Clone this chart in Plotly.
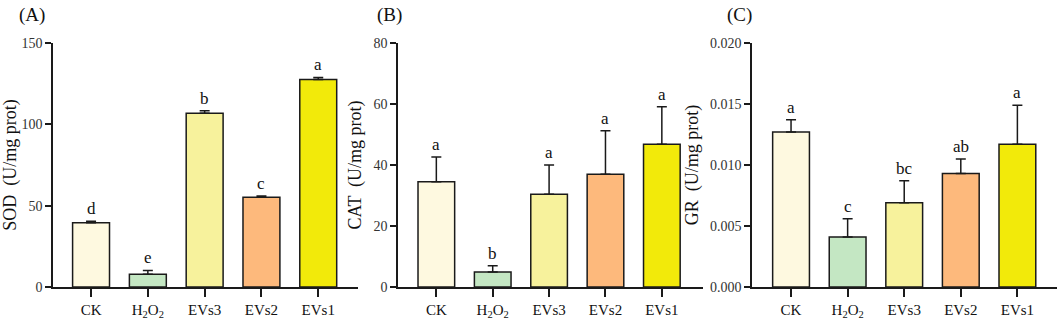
import plotly.graph_objects as go

categories = ["CK", "H<sub>2</sub>O<sub>2</sub>", "EVs3", "EVs2", "EVs1"]
colors = ["#FEF9E0", "#C4E7C3", "#F7F29C", "#FDB97C", "#F2EA0A"]

sod_mean = [39.5, 7.8, 106.8, 55.2, 127.6]
sod_err = [0.9, 2.4, 1.6, 0.8, 1.2]
sod_sig = ["d", "e", "b", "c", "a"]

cat_mean = [34.5, 4.9, 30.4, 37.0, 46.8]
cat_err = [8.1, 2.1, 9.6, 14.2, 12.3]
cat_sig = ["a", "b", "a", "a", "a"]

gr_mean = [0.0127, 0.0041, 0.0069, 0.0093, 0.0117]
gr_err = [0.0010, 0.0015, 0.0018, 0.0012, 0.0032]
gr_sig = ["a", "c", "bc", "ab", "a"]

panels = [
    ("(A)", "SOD  (U/mg prot)", sod_mean, sod_err, sod_sig, [0, 150], 50, None),
    ("(B)", "CAT  (U/mg prot)", cat_mean, cat_err, cat_sig, [0, 80], 20, None),
    ("(C)", "GR  (U/mg prot)", gr_mean, gr_err, gr_sig, [0, 0.02], 0.005, ".3f"),
]

W, H = 1059, 324
domains_px = [(53, 358), (398, 703), (752, 1057)]
xranges = [[-0.67, 4.7], [-0.68, 4.73], [-0.69, 4.7]]
label_x_px = [17, 375, 725]
title_standoff = [7, 7, 7]

FONT = "Liberation Serif, Times New Roman, serif"
fig = go.Figure()
x_idx = list(range(len(categories)))

for i, (plab, ytitle, mean, err, sig, yr, dt, fmt) in enumerate(panels):
    xa = "x" if i == 0 else f"x{i+1}"
    ya = "y" if i == 0 else f"y{i+1}"
    fig.add_trace(go.Bar(
        x=x_idx, y=mean, xaxis=xa, yaxis=ya, width=0.65,
        marker=dict(color=colors, line=dict(color="#1a1a1a", width=1.5)),
        error_y=dict(type="data", symmetric=False, array=err,
                     arrayminus=[0] * len(err), color="#1a1a1a",
                     thickness=1.5, width=5),
        showlegend=False, hoverinfo="skip",
    ))
    for j in x_idx:
        fig.add_annotation(x=j, y=mean[j] + err[j], xref=xa, yref=ya,
                           text=sig[j], showarrow=False, yanchor="bottom",
                           yshift=1, font=dict(family=FONT, size=17, color="#111"))
    d0, d1 = domains_px[i]
    axkey = "xaxis" if i == 0 else f"xaxis{i+1}"
    aykey = "yaxis" if i == 0 else f"yaxis{i+1}"
    fig.update_layout(**{
        axkey: dict(domain=[d0 / W, d1 / W], anchor=ya, range=xranges[i],
                    tickmode="array", tickvals=x_idx, ticktext=categories,
                    showline=True, linecolor="#1a1a1a", linewidth=1.5,
                    ticks="outside", ticklen=8, tickwidth=1.5, tickcolor="#1a1a1a",
                    showgrid=False, zeroline=False, fixedrange=True,
                    automargin=False,
                    tickfont=dict(family=FONT, size=15, color="#111")),
        aykey: dict(domain=[0, 1], anchor=xa, range=yr, dtick=dt, tick0=0,
                    tickformat=fmt, showline=True, linecolor="#1a1a1a",
                    linewidth=1.5, ticks="outside", ticklen=6, tickwidth=1.5,
                    tickcolor="#1a1a1a", showgrid=False, zeroline=False,
                    automargin=False, fixedrange=True,
                    title=dict(text=ytitle, standoff=title_standoff[i],
                               font=dict(family=FONT, size=18, color="#111")),
                    tickfont=dict(family=FONT, size=14, color="#333")),
    })
    fig.add_annotation(x=label_x_px[i] / W, y=1, xref="paper", yref="paper",
                       yshift=28, xanchor="left", yanchor="middle",
                       text=plab, showarrow=False,
                       font=dict(family=FONT, size=19, color="#111"))

fig.update_layout(width=W, height=H, margin=dict(l=0, r=0, t=43, b=37),
                  paper_bgcolor="white", plot_bgcolor="white",
                  bargap=0.35)
fig.write_html("out.html", config={"displayModeBar": False},
               post_script="document.body.style.margin='0';document.body.style.overflow='hidden';")
